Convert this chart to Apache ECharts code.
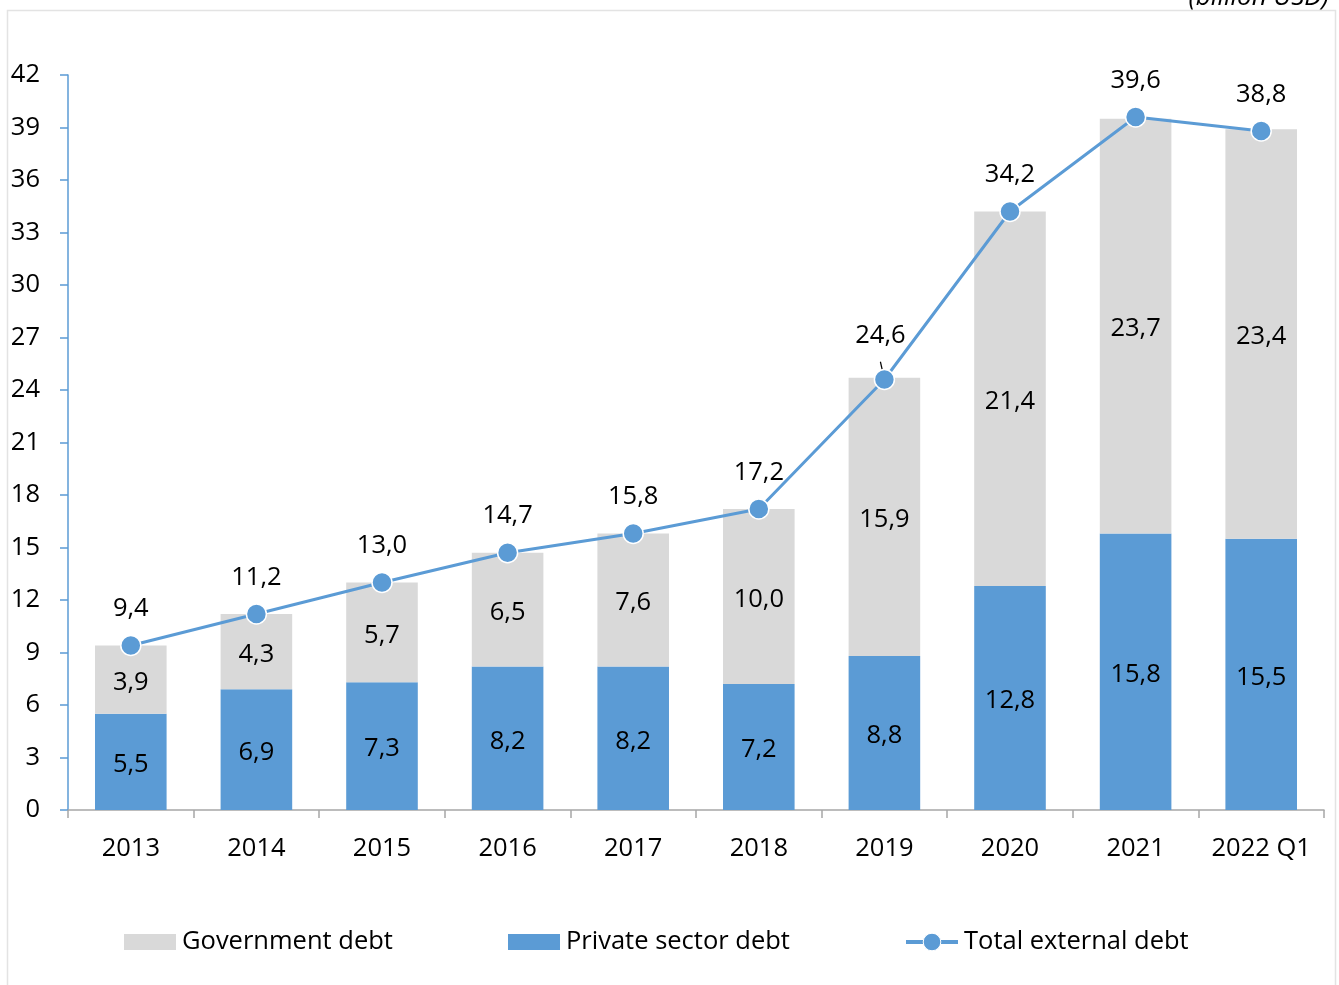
<!DOCTYPE html>
<html>
<head>
<meta charset="utf-8">
<script src="https://cdn.jsdelivr.net/npm/echarts@6/dist/echarts.min.js"></script>
<style>
  html, body { margin: 0; padding: 0; background: #fff; }
  #chart { width: 1339px; height: 985px; }
</style>
</head>
<body>
<div id="chart"></div>
<script>
// External debt breakdown, billion USD
const categories = ['2013', '2014', '2015', '2016', '2017', '2018', '2019', '2020', '2021', '2022 Q1'];
const privateDebt = [5.5, 6.9, 7.3, 8.2, 8.2, 7.2, 8.8, 12.8, 15.8, 15.5];
const governmentDebt = [3.9, 4.3, 5.7, 6.5, 7.6, 10.0, 15.9, 21.4, 23.7, 23.4];
const totalDebt = [9.4, 11.2, 13.0, 14.7, 15.8, 17.2, 24.6, 34.2, 39.6, 38.8];
const yTicks = { min: 0, max: 42, interval: 3 };

const FONT = '"Open Sans", sans-serif';
const FS = 25.5;
const BLUE = '#5b9bd5';
const GREY = '#d9d9d9';
const comma = v => v.toFixed(1).replace('.', ',');

const chart = echarts.init(document.getElementById('chart'), null, { renderer: 'canvas' });

const totalData = totalDebt.map((v, i) => {
  // 2019 label sits a little off the point, joined by a short leader
  if (categories[i] === '2019') {
    return { value: v, label: { offset: [-4, -7] }, labelLine: { show: true } };
  }
  return v;
});

const legendText = { fontSize: FS, color: '#000', fontFamily: FONT, padding: [0, 0, 0, 1] };

chart.setOption({
  backgroundColor: '#ffffff',
  animation: false,
  textStyle: { fontFamily: FONT },
  graphic: [{
    type: 'rect',
    shape: { x: 7.5, y: 10.5, width: 1328, height: 990 },
    style: { fill: 'none', stroke: '#e3e3e3', lineWidth: 1.5 },
    silent: true,
    z: -1
  }, {
    type: 'text',
    right: 10,
    top: -15,
    style: { text: '(billion USD)', font: 'italic 26px "Open Sans", sans-serif', fill: '#000' }
  }],
  grid: { left: 68, right: 15, top: 75, bottom: 175, containLabel: false },
  legend: [
    {
      left: 124, top: 929, padding: 0, itemWidth: 52, itemHeight: 16,
      textStyle: legendText,
      data: [{ name: 'Government debt', icon: 'rect' }]
    },
    {
      left: 508, top: 929, padding: 0, itemWidth: 52, itemHeight: 16,
      textStyle: legendText,
      data: [{ name: 'Private sector debt', icon: 'rect' }]
    },
    {
      left: 904, top: 929, padding: 0, itemWidth: 52, itemHeight: 22,
      textStyle: legendText,
      lineStyle: { width: 4 },
      itemStyle: { borderColor: '#ffffff', borderWidth: 1 },
      data: [{ name: 'Total external debt' }]
    }
  ],
  xAxis: {
    type: 'category',
    data: categories,
    axisLine: { lineStyle: { color: '#a6a6a6', width: 1.5 } },
    axisTick: { show: true, interval: 0, length: 8, lineStyle: { color: '#a6a6a6', width: 1.5 } },
    axisLabel: { interval: 0, color: '#000', fontSize: FS, margin: 26, fontFamily: FONT }
  },
  yAxis: {
    type: 'value',
    min: yTicks.min,
    max: yTicks.max,
    interval: yTicks.interval,
    axisLine: { show: true, lineStyle: { color: BLUE, width: 1.5 } },
    axisTick: { show: true, length: 8, lineStyle: { color: BLUE, width: 1.5 } },
    splitLine: { show: false },
    axisLabel: { color: '#000', fontSize: FS, margin: 28, fontFamily: FONT }
  },
  series: [
    {
      name: 'Private sector debt',
      type: 'bar',
      stack: 'debt',
      barWidth: '57%',
      itemStyle: { color: BLUE },
      label: {
        show: true, position: 'inside', offset: [0, 3], color: '#000', fontSize: FS, fontFamily: FONT,
        formatter: p => comma(p.value)
      },
      data: privateDebt
    },
    {
      name: 'Government debt',
      type: 'bar',
      stack: 'debt',
      barWidth: '57%',
      itemStyle: { color: GREY },
      label: {
        show: true, position: 'inside', offset: [0, 3], color: '#000', fontSize: FS, fontFamily: FONT,
        formatter: p => comma(p.value)
      },
      data: governmentDebt
    },
    {
      name: 'Total external debt',
      type: 'line',
      symbol: 'circle',
      symbolSize: 20,
      itemStyle: { color: BLUE, borderColor: '#ffffff', borderWidth: 1.5 },
      lineStyle: { color: BLUE, width: 3 },
      z: 5,
      label: {
        show: true, position: 'top', distance: 13, color: '#000', fontSize: FS, fontFamily: FONT,
        formatter: p => comma(p.value)
      },
      labelLine: { show: false, lineStyle: { color: '#000', width: 1.2 } },
      data: totalData
    }
  ]
});
</script>
</body>
</html>
